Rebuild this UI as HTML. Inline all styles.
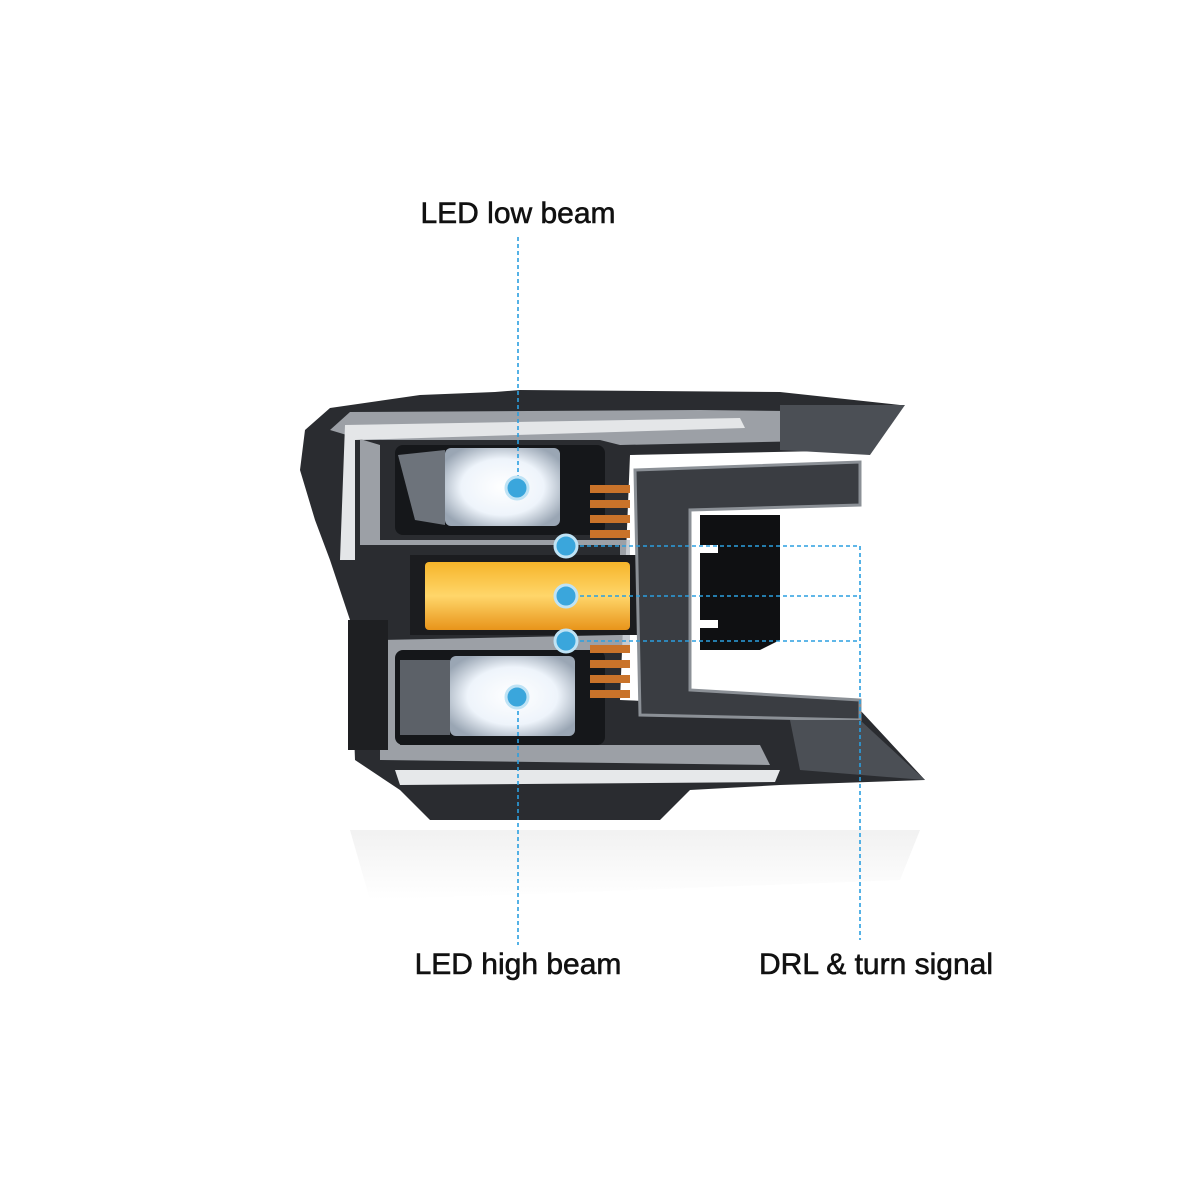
<!DOCTYPE html>
<html><head><meta charset="utf-8"><style>
html,body{margin:0;padding:0;background:#fff;width:1200px;height:1200px;overflow:hidden}
svg{display:block}
text{font-family:"Liberation Sans",sans-serif;font-size:30px;fill:#111;stroke:#111;stroke-width:0.6}
</style></head><body>
<svg width="1200" height="1200" viewBox="0 0 1200 1200">
<defs>
<radialGradient id="glow" cx="50%" cy="50%" r="60%"><stop offset="0" stop-color="#fff"/><stop offset="0.6" stop-color="#eef4fb"/><stop offset="1" stop-color="#9aa6b4"/></radialGradient>
<linearGradient id="amber" x1="0" y1="0" x2="0" y2="1"><stop offset="0" stop-color="#f6b42a"/><stop offset="0.5" stop-color="#ffd66a"/><stop offset="1" stop-color="#e8941a"/></linearGradient>
<linearGradient id="refl" x1="0" y1="0" x2="0" y2="1"><stop offset="0" stop-color="#e4e4e4"/><stop offset="1" stop-color="#fff"/></linearGradient>
</defs>
<path d="M350 830 L920 830 L900 880 L370 900 Z" fill="url(#refl)" opacity="0.5"/>
<path d="M305 430 L330 408 L420 395 L495 392 L520 390 L780 392 L900 405 L870 450 L630 455 L620 700 L860 710 L925 780 L780 785 L690 790 L660 820 L430 820 L400 790 L355 760 L350 620 L330 560 L315 520 L300 470 Z" fill="#2a2c30"/>
<path d="M330 430 L350 412 L700 410 L880 412 L860 440 L620 445 L600 440 L360 440 L360 545 L620 545 L620 635 L380 640 L380 760 L770 765 L760 745 L400 745 L400 655 L630 650 L630 540 L380 540 L380 445 Z" fill="#b9bec4" opacity="0.8"/>
<path d="M345 425 L740 418 L745 428 L355 440 L355 560 L340 560 Z" fill="#e4e6e8"/>
<path d="M395 770 L780 770 L775 782 L400 785 Z" fill="#e6e8ea"/>
<rect x="395" y="445" width="210" height="90" rx="8" fill="#15171a"/>
<rect x="395" y="650" width="210" height="95" rx="8" fill="#15171a"/>
<rect x="445" y="448" width="115" height="78" rx="6" fill="url(#glow)"/>
<path d="M398 455 L445 450 L445 525 L415 520 Z" fill="#6d737b"/>
<rect x="450" y="656" width="125" height="80" rx="6" fill="url(#glow)"/>
<rect x="400" y="660" width="50" height="75" fill="#5c6168"/>
<rect x="410" y="555" width="230" height="80" fill="#1b1c1f"/>
<rect x="425" y="562" width="205" height="68" rx="4" fill="url(#amber)"/>
<g fill="#c9732a">
<rect x="590" y="485" width="40" height="8"/><rect x="590" y="500" width="40" height="8"/><rect x="590" y="515" width="40" height="8"/><rect x="590" y="530" width="40" height="8"/>
<rect x="590" y="645" width="40" height="8"/><rect x="590" y="660" width="40" height="8"/><rect x="590" y="675" width="40" height="8"/><rect x="590" y="690" width="40" height="8"/>
</g>
<path d="M635 470 L860 462 L860 505 L690 510 L690 690 L860 700 L860 720 L640 715 Z" fill="#3a3d42" stroke="#8b9096" stroke-width="3"/>
<path d="M700 515 L780 515 L780 640 L760 650 L700 650 Z" fill="#0f1012"/>
<rect x="700" y="545" width="18" height="8" fill="#fff"/>
<rect x="700" y="620" width="18" height="8" fill="#fff"/>
<path d="M780 405 L905 405 L870 455 L780 450 Z" fill="#4b4f55"/>
<path d="M790 720 L860 720 L925 780 L800 770 Z" fill="#4b4f55"/>
<rect x="348" y="620" width="40" height="130" fill="#1e1f22"/>
<g stroke="#2b9fe0" stroke-width="1.6" stroke-dasharray="4,3" fill="none">
<line x1="518" y1="237" x2="518" y2="488"/>
<line x1="518" y1="697" x2="518" y2="945"/>
<line x1="566" y1="546" x2="860" y2="546"/>
<line x1="566" y1="596" x2="860" y2="596"/>
<line x1="566" y1="641" x2="860" y2="641"/>
<line x1="860" y1="546" x2="860" y2="940"/>
</g>
<g fill="#3aa6dc" stroke="#bfe3f5" stroke-width="3">
<circle cx="517" cy="488" r="11"/><circle cx="517" cy="697" r="11"/>
<circle cx="566" cy="546" r="11"/><circle cx="566" cy="596" r="11"/><circle cx="566" cy="641" r="11"/>
</g>
<text x="518" y="223" text-anchor="middle">LED low beam</text>
<text x="518" y="974" text-anchor="middle">LED high beam</text>
<text x="876" y="974" text-anchor="middle">DRL &amp; turn signal</text>
</svg>
</body></html>
